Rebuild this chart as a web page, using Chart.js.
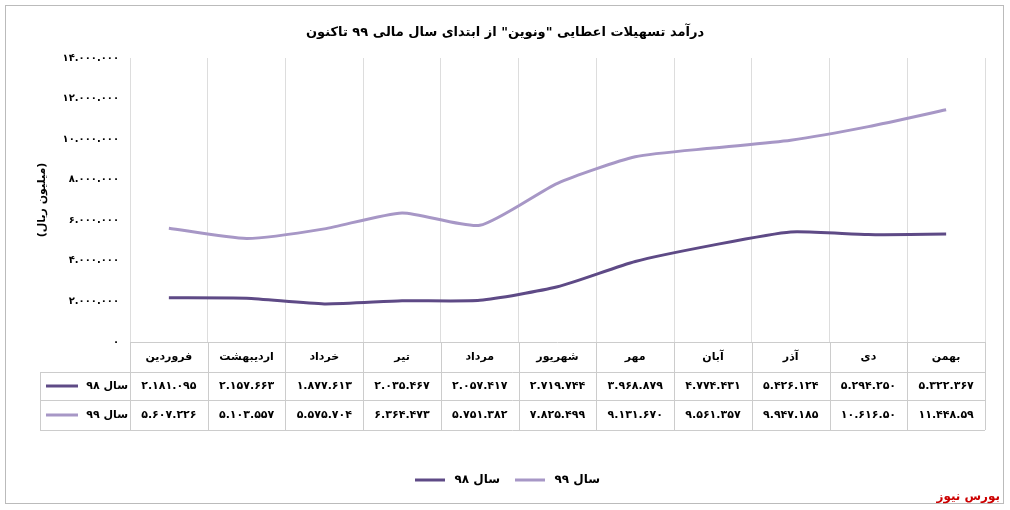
<!DOCTYPE html>
<html><head><meta charset="utf-8">
<script src="https://cdn.jsdelivr.net/npm/chart.js@4/dist/chart.umd.min.js"></script>
<style>body{margin:0;background:#fff}</style>
</head><body><canvas id="c" width="1010" height="510"></canvas>
<script>
const categories=['فروردین','اردیبهشت','خرداد','تیر','مرداد','شهریور','مهر','آبان','آذر','دی','بهمن'];
const s98=[2181095,2157663,1877613,2035467,2057417,2719744,3968879,4774431,5426124,5294250,5322367];
const s99=[5607226,5103557,5575704,6364473,5751382,7825499,9131670,9561357,9947185,10616500,11448590];
const lbl98=['۲.۱۸۱.۰۹۵','۲.۱۵۷.۶۶۳','۱.۸۷۷.۶۱۳','۲.۰۳۵.۴۶۷','۲.۰۵۷.۴۱۷','۲.۷۱۹.۷۴۴','۳.۹۶۸.۸۷۹','۴.۷۷۴.۴۳۱','۵.۴۲۶.۱۲۴','۵.۲۹۴.۲۵۰','۵.۳۲۲.۳۶۷'];
const lbl99=['۵.۶۰۷.۲۲۶','۵.۱۰۳.۵۵۷','۵.۵۷۵.۷۰۴','۶.۳۶۴.۴۷۳','۵.۷۵۱.۳۸۲','۷.۸۲۵.۴۹۹','۹.۱۳۱.۶۷۰','۹.۵۶۱.۳۵۷','۹.۹۴۷.۱۸۵','۱۰.۶۱۶.۵۰','۱۱.۴۴۸.۵۹'];
const names=['سال ۹۸','سال ۹۹'];
const colors=['#5e4a86','#a797c6'];
const fa=n=>n.toLocaleString('en-US').replace(/,/g,'.').replace(/\d/g,d=>'۰۱۲۳۴۵۶۷۸۹'[d]);
const F='"DejaVu Sans",sans-serif';
const deco={id:'deco',afterDraw(ch){
 const c=ch.ctx,a=ch.chartArea;c.save();
 c.strokeStyle='#bbb';c.lineWidth=1;c.strokeRect(5.5,5.5,998,498);
 c.fillStyle='#000';c.font='bold 13px '+F;c.textAlign='center';c.textBaseline='middle';
 c.fillText('درآمد تسهیلات اعطایی "ونوین" از ابتدای سال مالی ۹۹ تاکنون',505,33);
 c.save();c.translate(42,200);c.rotate(-Math.PI/2);c.font='bold 11px '+F;c.fillText('(میلیون ریال)',0,0);c.restore();
 const w=(a.right-a.left)/categories.length,rows=[a.bottom,a.bottom+30,a.bottom+58,a.bottom+88];
 c.strokeStyle='#ccc';c.lineWidth=1;
 for(let r=0;r<4;r++){c.beginPath();c.moveTo(r==0?a.left:40,rows[r]+.5);c.lineTo(a.right,rows[r]+.5);c.stroke();}
 for(let i=0;i<=categories.length;i++){const xx=Math.round(a.left+i*w)+.5;c.beginPath();c.moveTo(xx,rows[0]);c.lineTo(xx,rows[3]);c.stroke();}
 c.beginPath();c.moveTo(40.5,rows[1]);c.lineTo(40.5,rows[3]);c.stroke();
 c.font='bold 11px '+F;
 categories.forEach((t,i)=>{const cx=a.left+(i+.5)*w;c.fillText(t,cx,(rows[0]+rows[1])/2);
  c.fillText(lbl98[i],cx,(rows[1]+rows[2])/2);c.fillText(lbl99[i],cx,(rows[2]+rows[3])/2);});
 [0,1].forEach(k=>{const y=(rows[k+1]+rows[k+2])/2;c.strokeStyle=colors[k];c.lineWidth=3;c.beginPath();c.moveTo(46,y);c.lineTo(78,y);c.stroke();
  c.textAlign='right';c.fillText(names[k],128,y);c.textAlign='center';});
 c.font='bold 12px '+F;const ly=480;
 [[0,415,500],[1,515,600]].forEach(([k,x0,tx])=>{c.strokeStyle=colors[k];c.lineWidth=3;c.beginPath();c.moveTo(x0,ly);c.lineTo(x0+30,ly);c.stroke();c.textAlign='right';c.fillText(names[k],tx,ly);});
 c.fillStyle='#c00';c.font='bold 12px '+F;c.textAlign='right';c.fillText('بورس نیوز',1000,497);
 c.restore();}};
new Chart(document.getElementById('c'),{type:'line',
 data:{labels:categories,datasets:[
  {label:names[0],data:s98,borderColor:colors[0],borderWidth:3,pointRadius:0,tension:0.2},
  {label:names[1],data:s99,borderColor:colors[1],borderWidth:3,pointRadius:0,tension:0.2}]},
 options:{responsive:false,animation:false,devicePixelRatio:1,
  layout:{padding:{top:58,bottom:0,right:25,left:0}},
  plugins:{legend:{display:false},tooltip:{enabled:false}},
  scales:{x:{display:true,offset:true,ticks:{display:false},border:{display:false},grid:{color:'#ddd',offset:true,drawTicks:false},afterFit(s){s.height=168;}},
   y:{min:0,max:14000000,afterFit(s){s.width=130;},ticks:{stepSize:2000000,color:'#000',font:{size:10,weight:'bold',family:F},callback:v=>fa(v)},grid:{display:false},border:{display:false}}}},
 plugins:[deco]});
</script></body></html>
